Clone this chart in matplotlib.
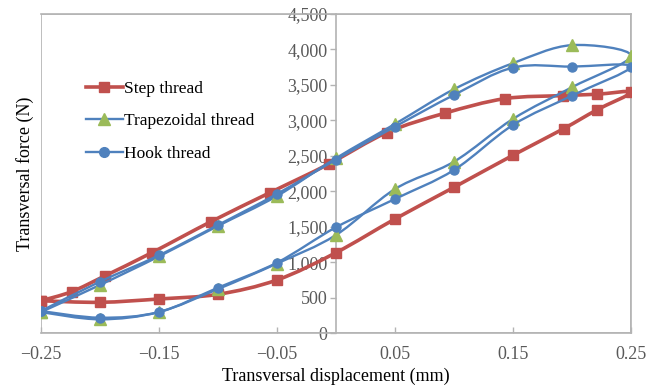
import numpy as np
import matplotlib.pyplot as plt
from matplotlib.path import Path
from matplotlib.patches import PathPatch
from matplotlib.lines import Line2D
from matplotlib.ticker import FuncFormatter

# data (loop: lower branch left->right, then upper branch back)
step_x = [-0.25, -0.2, -0.15, -0.1, -0.05, 0.0, 0.05, 0.1, 0.15, 0.193, 0.221, 0.25,
          0.221, 0.192, 0.143, 0.092, 0.043, -0.006, -0.056, -0.106, -0.156, -0.196, -0.224, -0.25]
step_y = [455, 433, 480, 546, 748, 1133, 1608, 2055, 2507, 2882, 3146, 3395,
          3367, 3348, 3305, 3099, 2826, 2384, 1979, 1570, 1133, 804, 583, 455]

loop_x = [-0.25, -0.2, -0.15, -0.1, -0.05, 0.0, 0.05, 0.1, 0.15, 0.2, 0.25,
          0.2, 0.15, 0.1, 0.05, 0.0, -0.05, -0.1, -0.15, -0.2, -0.25]
trap_y = [295, 193, 296, 620, 980, 1382, 2030, 2416, 3019, 3466, 3910,
          4060, 3805, 3438, 2948, 2465, 1932, 1510, 1080, 677, 295]
hook_y = [310, 216, 296, 639, 992, 1491, 1890, 2299, 2934, 3348, 3757,
          3757, 3743, 3357, 2910, 2445, 1961, 1523, 1096, 724, 310]

x_ticks = [-0.25, -0.15, -0.05, 0.05, 0.15, 0.25]
x_labels = ['\u22120.25', '\u22120.15', '\u22120.05', '0.05', '0.15', '0.25']
y_ticks = list(range(0, 4501, 500))

RED = '#c0504d'
BLUE = '#4f81bd'
GREEN = '#9bbb59'
GRAY = '#b3b3b3'

plt.rcParams['font.family'] = ['Liberation Serif', 'DejaVu Serif']


def smooth_path(xs, ys):
    # Excel-style smoothed line: cubic bezier between points
    p = np.column_stack([xs, ys]).astype(float)
    n = len(p)
    verts = [p[0]]
    codes = [Path.MOVETO]
    for i in range(n - 1):
        p0 = p[i - 1] if i > 0 else p[i]
        p3 = p[i + 2] if i + 2 < n else p[i + 1]
        c1 = p[i] + (p[i + 1] - p0) / 6.0
        c2 = p[i + 1] - (p3 - p[i]) / 6.0
        verts += [c1, c2, p[i + 1]]
        codes += [Path.CURVE4] * 3
    return Path(verts, codes)


fig = plt.figure(figsize=(6.6, 3.87), dpi=100)
ax = fig.add_axes([0.062, 0.1395, 0.894, 0.8245])

ax.add_patch(PathPatch(smooth_path(step_x, step_y), fill=False, edgecolor=RED, lw=2.6, zorder=3))
ax.plot(step_x, step_y, ls='none', marker='s', ms=6.5, color=RED, zorder=4)

ax.add_patch(PathPatch(smooth_path(loop_x, trap_y), fill=False, edgecolor=BLUE, lw=1.7, zorder=5))
ax.plot(loop_x, trap_y, ls='none', marker='^', ms=8, color=GREEN, zorder=6)

ax.add_patch(PathPatch(smooth_path(loop_x, hook_y), fill=False, edgecolor=BLUE, lw=1.7, zorder=7))
ax.plot(loop_x, hook_y, ls='none', marker='o', ms=6.5, color=BLUE, zorder=8)

ax.set_xlim(-0.25, 0.25)
ax.set_ylim(0, 4500)

# y axis crosses at x = 0
ax.spines['left'].set_position(('data', 0))
ax.spines['left'].set_zorder(1)
for s in ax.spines.values():
    s.set_color(GRAY)
    s.set_linewidth(1.2)

# box around plot area
ax.add_patch(plt.Rectangle((0, 0), 1, 1, transform=ax.transAxes, fill=False,
                           edgecolor=GRAY, lw=1.2, zorder=0))

ax.set_xticks(x_ticks)
ax.set_xticklabels(x_labels)
ax.set_yticks(y_ticks)
ax.yaxis.set_major_formatter(FuncFormatter(lambda v, pos: f'{int(v):,}'))
ax.tick_params(axis='both', colors=GRAY, labelcolor='#595959', labelsize=13, length=4, width=1.0)
ax.tick_params(axis='x', direction='in', pad=9)
ax.tick_params(axis='y', pad=2)

ax.set_xlabel('Transversal displacement (mm)', fontsize=13, labelpad=4)
fig.text(0.038, 0.55, 'Transversal force (N)', rotation=90, fontsize=13,
         ha='center', va='center')

handles = [
    Line2D([], [], color=RED, lw=2.6, marker='s', ms=7),
    Line2D([], [], color=BLUE, lw=1.7, marker='^', ms=8, mfc=GREEN, mec=GREEN),
    Line2D([], [], color=BLUE, lw=1.7, marker='o', ms=7),
]
ax.legend(handles, ['Step thread', 'Trapezoidal thread', 'Hook thread'],
          loc='upper left', bbox_to_anchor=(0.05, 0.84), frameon=False,
          fontsize=12.5, handlelength=2.1, handletextpad=0.1, labelspacing=0.95)

fig.savefig('out.png', dpi=100)
